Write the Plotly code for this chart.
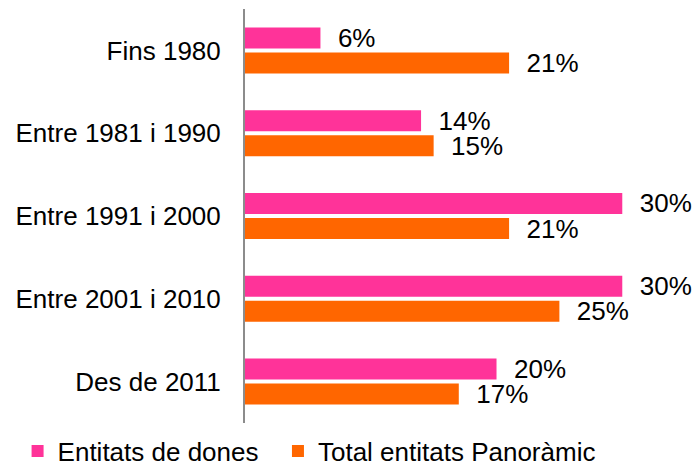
import plotly.graph_objects as go

categories = ["Fins 1980", "Entre 1981 i 1990", "Entre 1991 i 2000", "Entre 2001 i 2010", "Des de 2011"]
dones = [6, 14, 30, 30, 20]
total = [21, 15, 21, 25, 17]
series_names = ["Entitats de dones", "Total entitats Panoràmic"]
colors = ["#FF3399", "#FF6600"]

fig = go.Figure()
for i, (name, vals, col) in enumerate(zip(series_names, [dones, total], colors)):
    fig.add_trace(go.Bar(
        y=categories, x=vals, orientation="h",
        name=name + ("\u00a0\u00a0" if i == 0 else ""),
        marker=dict(color=col, line=dict(width=0)),
        text=[f"\u00a0\u00a0{v}%" for v in vals],
        textposition="outside", cliponaxis=False,
        textfont=dict(size=26, color="#000000"),
        hoverinfo="skip",
    ))

fig.update_layout(
    width=695, height=467,
    margin=dict(l=245, r=35, t=9, b=44, autoexpand=False),
    paper_bgcolor="white", plot_bgcolor="white",
    font=dict(family="Liberation Sans, Arial, sans-serif", size=26, color="#000000"),
    barmode="group", bargap=0.396, bargroupgap=0.16,
    showlegend=True,
    legend=dict(orientation="h", x=-0.548, xanchor="left", y=-0.068, yanchor="middle",
                font=dict(size=26), traceorder="normal", itemwidth=30,
                bgcolor="rgba(0,0,0,0)"),
    xaxis=dict(range=[0, 33], showgrid=False, zeroline=False, showticklabels=False,
               showline=False, automargin=False),
    yaxis=dict(autorange="reversed", showgrid=False, zeroline=False, automargin=False,
               showline=True, linecolor="#8C8C8C", linewidth=2,
               ticks="", ticklabelstandoff=17, tickfont=dict(size=26)),
)
fig.update_traces(constraintext="none")

fig.write_html("out.html", config={"displayModeBar": False},
               post_script="document.body.style.margin='0px';document.body.style.overflow='hidden';")
